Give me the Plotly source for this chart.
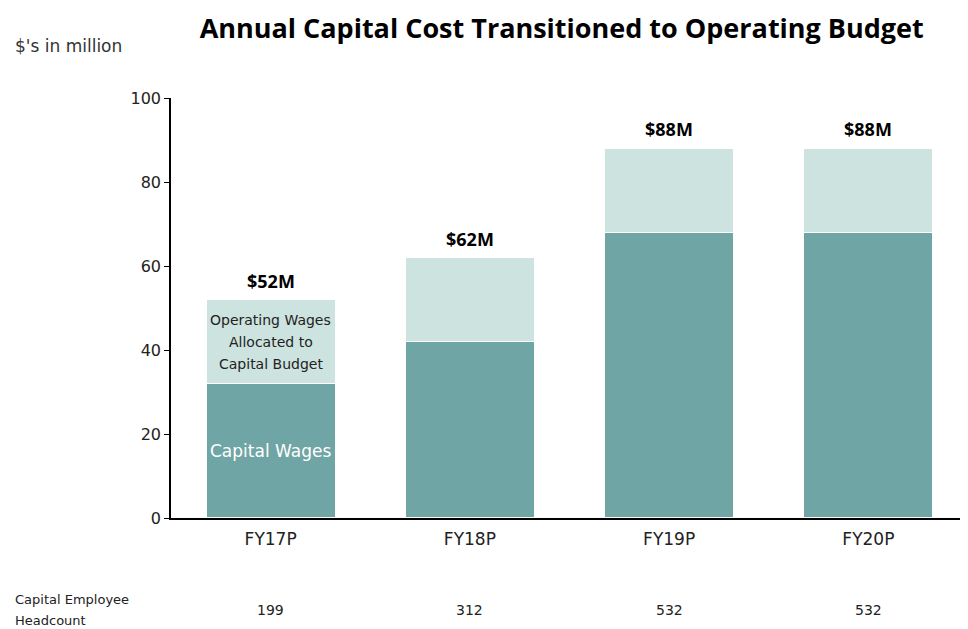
import plotly.graph_objects as go

years = ["FY17P", "FY18P", "FY19P", "FY20P"]
capital_wages = [32, 42, 68, 68]
operating_wages = [20, 20, 20, 20]
totals = [52, 62, 88, 88]
total_labels = ["$52M", "$62M", "$88M", "$88M"]
headcount = [199, 312, 532, 532]

dark = "#70a5a5"
light = "#cde3e0"
font = "DejaVu Sans"

fig = go.Figure()

fig.add_trace(go.Bar(
    x=years, y=capital_wages, name="Capital Wages",
    marker=dict(color=dark, line=dict(color="white", width=1.5)),
    hoverinfo="skip",
))
fig.add_trace(go.Bar(
    x=years, y=operating_wages, name="Operating Wages",
    marker=dict(color=light, line=dict(color="white", width=1.5)),
    hoverinfo="skip",
))

# totals above bars
for yr, tot, lab in zip(years, totals, total_labels):
    fig.add_annotation(x=yr, y=tot, text="<b>" + lab + "</b>", showarrow=False,
                       yshift=19, font=dict(family="Open Sans", size=18, color="black"))

# labels inside first bar
fig.add_annotation(x=years[0], y=capital_wages[0] / 2, text="Capital Wages",
                   showarrow=False, font=dict(family=font, size=17, color="white"))
op_lines = ["Operating Wages", "Allocated to", "Capital Budget"]
for i, line in enumerate(op_lines):
    fig.add_annotation(x=years[0], y=capital_wages[0] + operating_wages[0] / 2,
                       text=line, showarrow=False, yshift=22 * (1 - i),
                       font=dict(family=font, size=14, color="#222"))

# headcount row
for yr, hc in zip(years, headcount):
    fig.add_annotation(x=yr, xref="x", y=-0.219, yref="paper", yanchor="middle",
                       text=str(hc), showarrow=False,
                       font=dict(family=font, size=14, color="#222"))

fig.add_annotation(x=-0.198, xref="paper", y=-0.195, yref="paper", xanchor="left",
                   yanchor="middle", text="Capital Employee", showarrow=False,
                   font=dict(family=font, size=13, color="#222"))
fig.add_annotation(x=-0.198, xref="paper", y=-0.245, yref="paper", xanchor="left",
                   yanchor="middle", text="Headcount", showarrow=False,
                   font=dict(family=font, size=13, color="#222"))

fig.add_annotation(x=-0.198, xref="paper", y=1.124, yref="paper", xanchor="left",
                   yanchor="middle", text="$'s in million", showarrow=False,
                   font=dict(family=font, size=17, color="#333"))

fig.update_layout(
    width=968, height=629,
    barmode="stack", bargap=0.35,
    showlegend=False,
    plot_bgcolor="white", paper_bgcolor="white",
    margin=dict(l=163, r=8, t=90, b=119),
    title=dict(text="<b>Annual Capital Cost Transitioned to Operating Budget</b>",
               x=0.572, xanchor="center", y=0.968, yanchor="middle",
               font=dict(family="Open Sans", size=27, color="black")),
    xaxis=dict(showline=True, linecolor="black", linewidth=2, ticks="",
               ticklabelstandoff=5,
               tickfont=dict(family=font, size=17, color="#222")),
    yaxis=dict(range=[0, 100], dtick=20, showgrid=False, zeroline=False,
               showline=True, linecolor="black", linewidth=1.5,
               ticks="outside", ticklen=5, tickcolor="black",
               tickfont=dict(family=font, size=16, color="#222")),
)

fig.write_html("out.html")
